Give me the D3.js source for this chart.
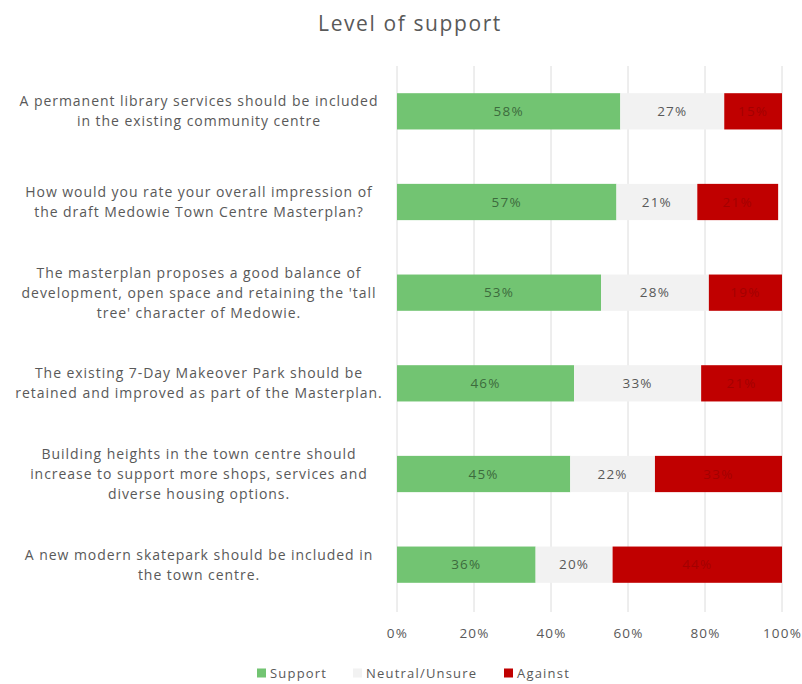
<!DOCTYPE html>
<html>
<head>
<meta charset="utf-8">
<script src="https://cdn.jsdelivr.net/npm/d3@7"></script>
<style>
  html, body { margin: 0; padding: 0; background: #fff; }
  svg { display: block; font-family: "Open Sans", Lato, sans-serif; }
</style>
</head>
<body>
<svg id="chart" width="802" height="684"></svg>
<script>
// Survey statements, each split into its display lines
const questions = [
  ["A permanent library services should be included", "in the existing community centre"],
  ["How would you rate your overall impression of", "the draft Medowie Town Centre Masterplan?"],
  ["The masterplan proposes a good balance of", "development, open space and retaining the 'tall", "tree' character of Medowie."],
  ["The existing 7-Day Makeover Park should be", "retained and improved as part of the Masterplan."],
  ["Building heights in the town centre should", "increase to support more shops, services and", "diverse housing options."],
  ["A new modern skatepark should be included in", "the town centre."]
];
const seriesNames = ["Support", "Neutral/Unsure", "Against"];
const support = [58, 57, 53, 46, 45, 36];
const neutral = [27, 21, 28, 33, 22, 20];
const against = [15, 21, 19, 21, 33, 44];
const tickValues = [0, 20, 40, 60, 80, 100];

const colors = { "Support": "#72c472", "Neutral/Unsure": "#f2f2f2", "Against": "#c00000" };
const labelColors = { "Support": "#3d6b3d", "Neutral/Unsure": "#595959", "Against": "#a30000" };

const rows = questions.map((q, i) => ({
  id: i, lines: q,
  "Support": support[i], "Neutral/Unsure": neutral[i], "Against": against[i]
}));

const svg = d3.select("#chart");

const x = d3.scaleLinear().domain([0, 100]).range([397, 782]);
const y = d3.scaleBand().domain(rows.map(d => d.id)).range([66, 610]).paddingInner(0.6).paddingOuter(0.3);

// Title
svg.append("text")
  .attr("x", 410).attr("y", 31)
  .attr("text-anchor", "middle")
  .attr("fill", "#595959")
  .style("font-size", "21px")
  .style("letter-spacing", "1.6px")
  .text("Level of support");

// Gridlines
svg.append("g").selectAll("line").data(tickValues).join("line")
  .attr("x1", d => x(d)).attr("x2", d => x(d))
  .attr("y1", 66).attr("y2", 612)
  .attr("stroke", "#dcdcdc").attr("stroke-width", 1);

// X axis tick labels
const xAxis = d3.axisBottom(x).tickValues(tickValues).tickFormat(d => d + "%").tickSize(0).tickPadding(14);
const gx = svg.append("g").attr("transform", "translate(0,614)").call(xAxis);
gx.select(".domain").remove();
gx.selectAll("text").attr("fill", "#595959")
  .style("font-size", "13.5px").style("letter-spacing", "1.2px")
  .style("font-family", "'Open Sans', sans-serif");

// Stacked bars
const stack = d3.stack().keys(seriesNames)(rows);
const layers = svg.append("g").selectAll("g").data(stack).join("g")
  .attr("fill", d => colors[d.key]);
layers.selectAll("rect").data(d => d.map(v => ({ key: d.key, v }))).join("rect")
  .attr("x", d => x(d.v[0]))
  .attr("width", d => x(d.v[1]) - x(d.v[0]))
  .attr("y", d => y(d.v.data.id))
  .attr("height", y.bandwidth());

// Value labels
const valueLabels = svg.append("g").selectAll("g").data(stack).join("g");
valueLabels.selectAll("text").data(d => d.map(v => ({ key: d.key, v }))).join("text")
  .attr("x", d => (x(d.v[0]) + x(d.v[1])) / 2)
  .attr("y", d => y(d.v.data.id) + y.bandwidth() / 2)
  .attr("dy", "0.35em")
  .attr("text-anchor", "middle")
  .attr("fill", d => labelColors[d.key])
  .style("font-size", "13.5px")
  .style("letter-spacing", "1.2px")
  .text(d => d.v.data[d.key] + "%");

// Category labels
const catG = svg.append("g").selectAll("text").data(rows).join("text")
  .attr("text-anchor", "middle")
  .attr("fill", "#595959")
  .style("font-size", "14px")
  .style("letter-spacing", "0.95px");
catG.each(function(d) {
  const n = d.lines.length;
  const lh = 20;
  const cy = y(d.id) + y.bandwidth() / 2;
  d3.select(this).selectAll("tspan").data(d.lines).join("tspan")
    .attr("x", 199)
    .attr("y", (l, i) => cy + (i - (n - 1) / 2) * lh)
    .attr("dy", "0.35em")
    .text(l => l);
});

// Legend
const legendItems = [
  { key: "Support", x: 257 },
  { key: "Neutral/Unsure", x: 353 },
  { key: "Against", x: 504 }
];
const lg = svg.append("g").selectAll("g").data(legendItems).join("g")
  .attr("transform", d => `translate(${d.x},673)`);
lg.append("rect").attr("x", 0).attr("y", -4.5).attr("width", 9).attr("height", 9)
  .attr("fill", d => colors[d.key]);
lg.append("text").attr("x", 13).attr("dy", "0.35em")
  .attr("fill", "#595959").style("font-size", "13px")
  .style("letter-spacing", "1.2px")
  .text(d => d.key);
</script>
</body>
</html>
